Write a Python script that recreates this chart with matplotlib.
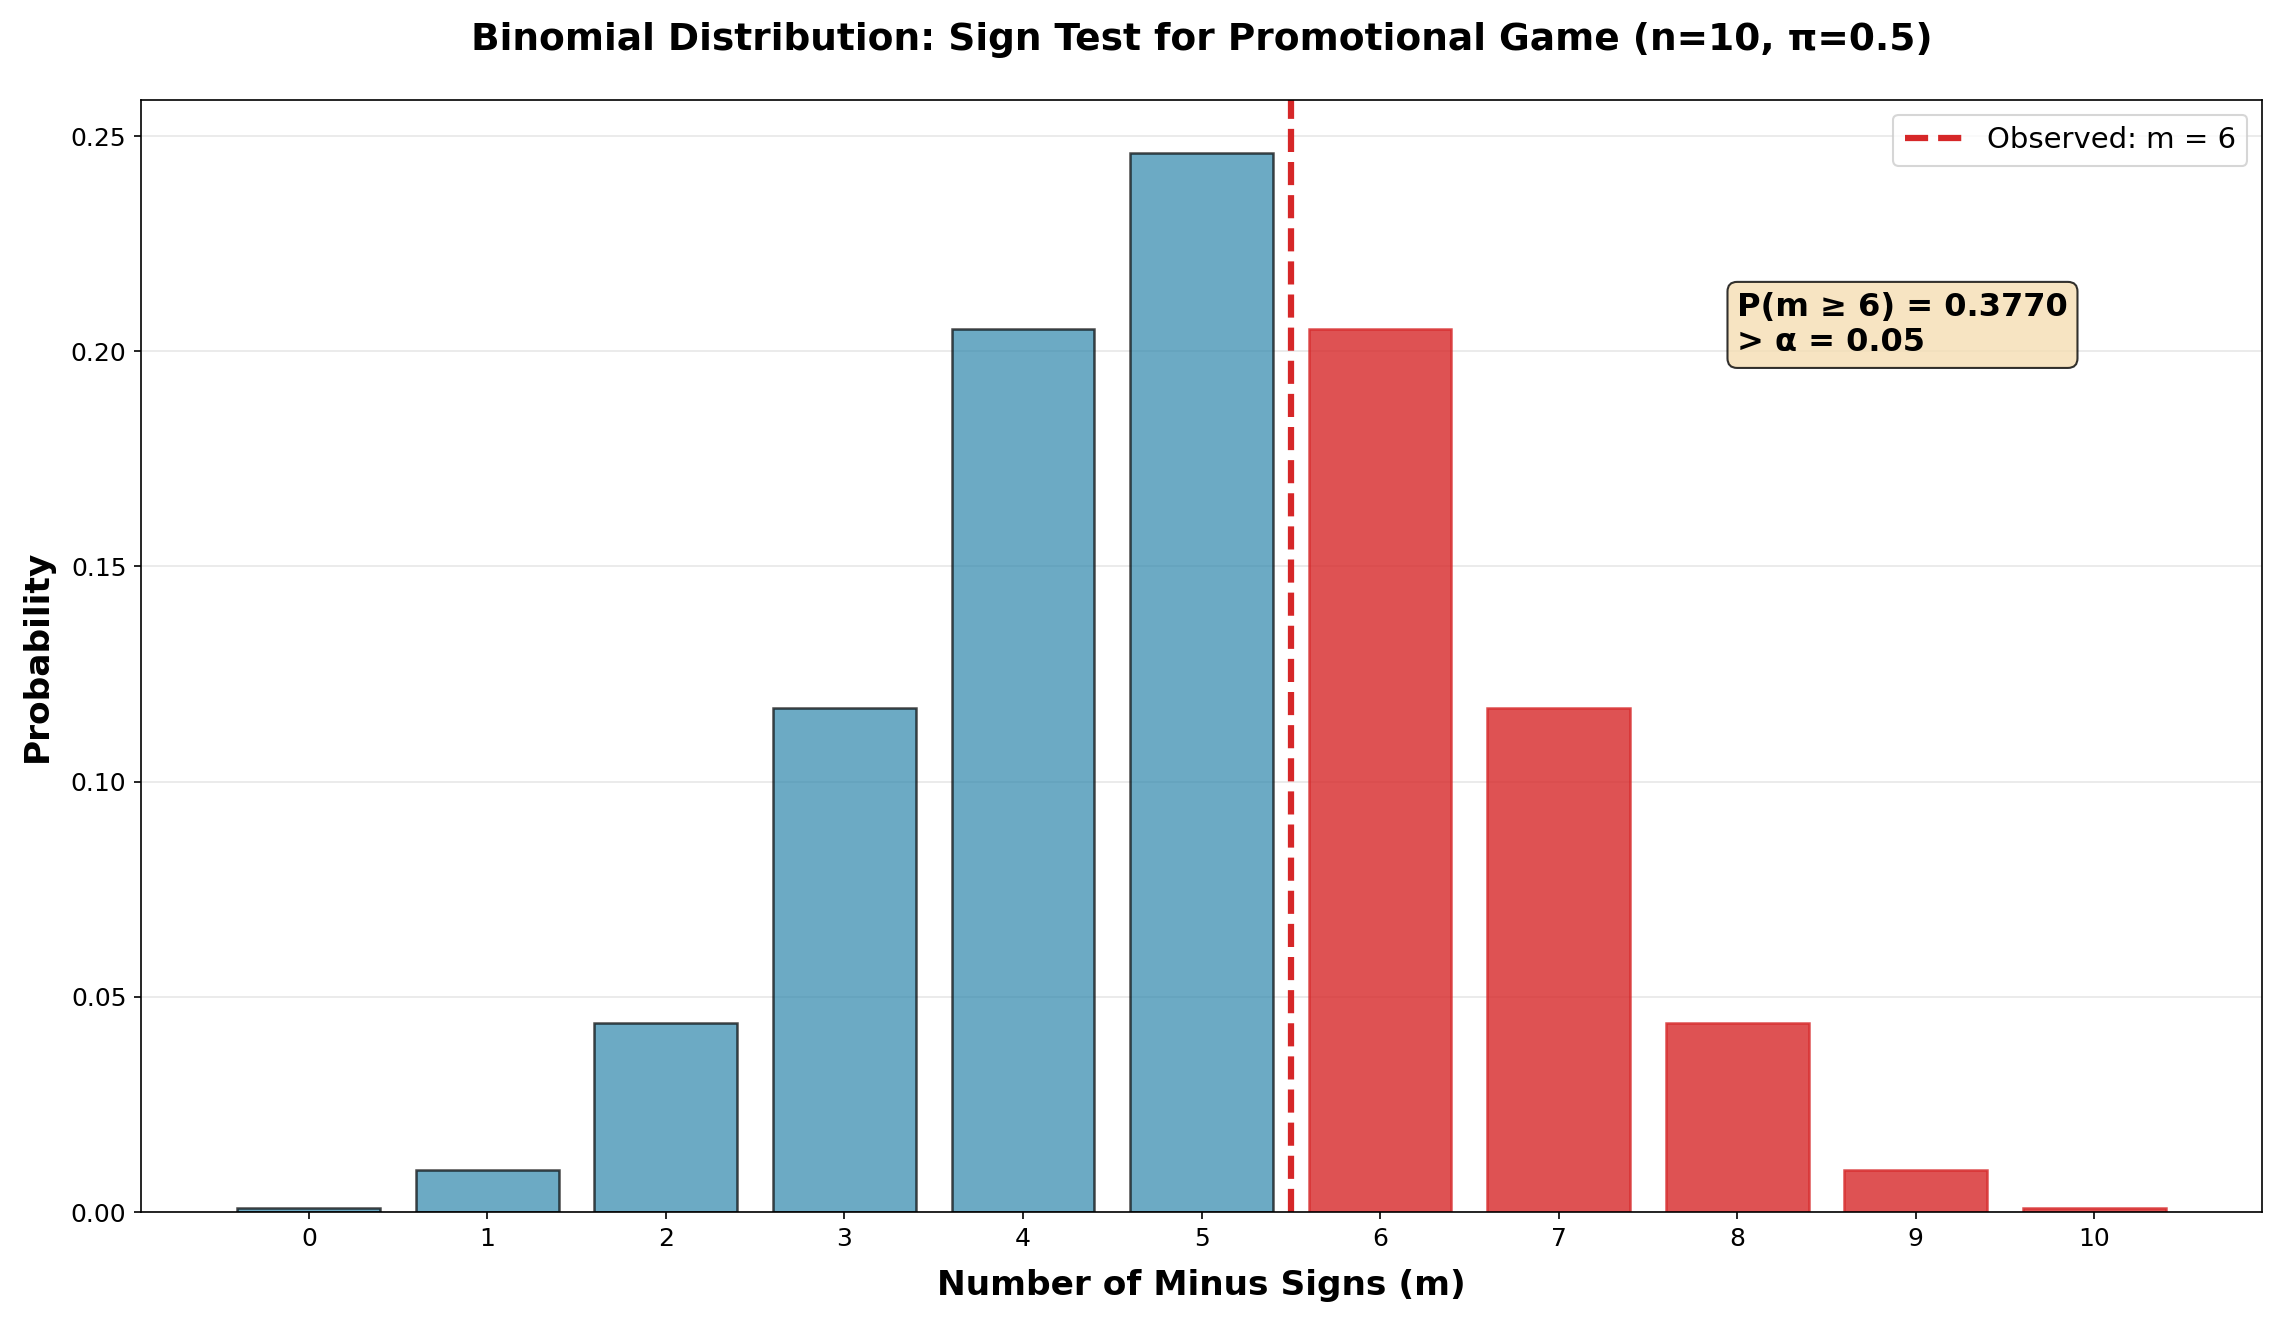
import matplotlib
matplotlib.use("Agg")
import matplotlib.pyplot as plt

m_values = [0, 1, 2, 3, 4, 5, 6, 7, 8, 9, 10]
probabilities = [0.000977, 0.009766, 0.043945, 0.117188, 0.205078, 0.246094,
                 0.205078, 0.117188, 0.043945, 0.009766, 0.000977]
observed_m = 6
p_value_text = "P(m \u2265 6) = 0.3770\n> \u03b1 = 0.05"

fig = plt.figure(figsize=(2282/150, 1321/150), dpi=150)
ax = fig.add_axes([141/2282, 1 - 1212/1321, (2262-141)/2282, (1212-100)/1321])

blue_x = [m for m in m_values if m < observed_m]
blue_y = [p for m, p in zip(m_values, probabilities) if m < observed_m]
red_x = [m for m in m_values if m >= observed_m]
red_y = [p for m, p in zip(m_values, probabilities) if m >= observed_m]

ax.bar(blue_x, blue_y, width=0.8, color='#2E86AB', alpha=0.7, edgecolor='black', linewidth=1.2)
ax.bar(red_x, red_y, width=0.8, color='#d62728', alpha=0.8, edgecolor='#d62728', linewidth=1.2)

ax.axvline(observed_m - 0.5, color='#d62728', linestyle='--', linewidth=3, label=f'Observed: m = {observed_m}')

ax.set_ylim(0, max(probabilities) * 1.05)
ax.set_xticks(m_values)
ax.tick_params(labelsize=12)
ax.set_xlabel('Number of Minus Signs (m)', fontsize=16.5, fontweight='bold', labelpad=9)
ax.set_ylabel('Probability', fontsize=16.5, fontweight='bold', labelpad=8)
ax.grid(axis='y', alpha=0.3)
ax.set_axisbelow(True)
ax.legend(loc='upper right', fontsize=14)

ax.text(8, 0.2, p_value_text, fontsize=15.4, fontweight='bold', ha='left', va='baseline',
        bbox=dict(boxstyle='round', facecolor='wheat', alpha=0.8, edgecolor='black'))

ax.set_title('Binomial Distribution: Sign Test for Promotional Game (n=10, \u03c0=0.5)',
             fontsize=18, fontweight='bold', pad=24)

fig.savefig('out.png', dpi=150)
